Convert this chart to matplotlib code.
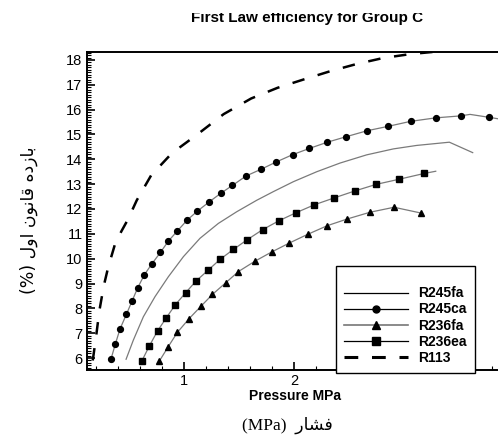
import matplotlib
matplotlib.use("Agg")
import matplotlib.pyplot as plt
from matplotlib.lines import Line2D
from matplotlib.patches import Rectangle
from matplotlib.ticker import MultipleLocator, FuncFormatter

# ---------------- data ----------------
r113_x = [0.17, 0.20, 0.23, 0.27, 0.31, 0.37, 0.43, 0.49, 0.57, 0.70, 0.89, 1.12,
          1.36, 1.61, 1.85, 2.09, 2.33, 2.57, 2.81, 3.06, 3.30, 3.55]
r113_y = [5.90, 6.85, 7.90, 8.90, 9.65, 10.55, 11.10, 11.58, 12.35, 13.35, 14.25, 15.00,
          15.82, 16.45, 16.88, 17.22, 17.55, 17.84, 18.08, 18.24, 18.34, 18.44]

r245ca_x = [0.336, 0.376, 0.418, 0.476, 0.527, 0.579, 0.639, 0.709, 0.785, 0.858, 0.940,
            1.03, 1.12, 1.227, 1.333, 1.44, 1.564, 1.70, 1.836, 1.988, 2.14, 2.303, 2.473,
            2.663, 2.857, 3.06, 3.288, 3.515, 3.60, 3.776, 3.90]
r245ca_y = [5.96, 6.57, 7.17, 7.76, 8.29, 8.83, 9.35, 9.80, 10.25, 10.71, 11.12,
            11.56, 11.91, 12.28, 12.63, 12.95, 13.33, 13.60, 13.89, 14.19, 14.44, 14.69, 14.91,
            15.15, 15.33, 15.53, 15.67, 15.75, 15.81, 15.69, 15.60]

r245fa_x = [0.473, 0.539, 0.63, 0.736, 0.857, 0.994, 1.145, 1.312, 1.479, 1.66, 1.812,
            1.994, 2.206, 2.418, 2.66, 2.903, 3.115, 3.412, 3.624]
r245fa_y = [5.95, 6.72, 7.66, 8.47, 9.27, 10.08, 10.82, 11.42, 11.89, 12.35, 12.70,
            13.10, 13.50, 13.85, 14.18, 14.42, 14.56, 14.69, 14.27]

r236ea_x = [0.615, 0.684, 0.759, 0.836, 0.918, 1.015, 1.109, 1.22, 1.327, 1.448, 1.57,
            1.715, 1.864, 2.018, 2.185, 2.367, 2.555, 2.745, 2.957, 3.182, 3.288]
r236ea_y = [5.87, 6.48, 7.09, 7.60, 8.13, 8.63, 9.10, 9.54, 9.97, 10.37, 10.75,
            11.17, 11.53, 11.85, 12.17, 12.45, 12.73, 12.99, 13.20, 13.43, 13.52]

r236fa_x = [0.776, 0.857, 0.939, 1.045, 1.155, 1.258, 1.379, 1.494, 1.645, 1.797, 1.957,
            2.124, 2.303, 2.485, 2.691, 2.909, 3.151]
r236fa_y = [5.88, 6.46, 7.03, 7.58, 8.09, 8.56, 9.03, 9.48, 9.90, 10.27, 10.63,
            10.98, 11.33, 11.60, 11.87, 12.07, 11.84]

series_labels = ["R245fa", "R245ca", "R236fa", "R236ea", "R113"]
title_text = "First Law efficiency for Group C"
xlabel_en = "Pressure MPa"
# Persian labels, pre-shaped (presentation forms, visual order)
xlabel_fa = "(MPa)  \uFEAD\uFE8E\uFEB8\uFED3"
ylabel_fa = "(%) \uFEDD\uFEED\uFE8D \uFEE5\uFEEE\uFEE7\uFE8E\uFED7 \uFEE9\uFEA9\uFEAF\uFE8E\uFE91"

# ---------------- figure ----------------
W, H = 498, 441
fig = plt.figure(figsize=(W / 100, H / 100), dpi=100)
plt.rcParams['font.family'] = ['Liberation Sans', 'DejaVu Sans']

left_px, right_px, top_px, bottom_px = 86.7, 510, 51.7, 370
ax = fig.add_axes([left_px / W, 1 - bottom_px / H,
                   (right_px - left_px) / W, (bottom_px - top_px) / H])
ax.set_xlim(0.115, 0.115 + (right_px - left_px) / 110.0)
ax.set_ylim(5.517, 18.334)

line_c = '#7a7a7a'
ax.plot(r245fa_x, r245fa_y, color=line_c, lw=0.9)
ax.plot(r245ca_x, r245ca_y, color=line_c, lw=0.9, marker='o', ms=4.2,
        mfc='black', mec='black', markevery=list(range(28)) + [29])
ax.plot(r236fa_x, r236fa_y, color=line_c, lw=0.9, marker='^', ms=4.6,
        mfc='black', mec='black')
ax.plot(r236ea_x, r236ea_y, color=line_c, lw=0.9, marker='s', ms=4.2,
        mfc='black', mec='black', markevery=list(range(20)))
ax.plot(r113_x, r113_y, color='black', lw=1.8, ls=(0, (5, 5.5)))

for s in ax.spines.values():
    s.set_linewidth(1.4)
ax.xaxis.set_major_locator(MultipleLocator(1))
ax.xaxis.set_minor_locator(MultipleLocator(0.2))
ax.yaxis.set_major_locator(MultipleLocator(1))
ax.yaxis.set_minor_locator(MultipleLocator(0.1))
ax.xaxis.set_major_formatter(FuncFormatter(lambda v, p: '' if round(v) == 3 else f'{v:.0f}'))
ax.tick_params(which='major', direction='in', length=6, width=1.2, labelsize=10.5, pad=3)
ax.tick_params(which='minor', direction='in', length=3, width=0.8)
ax.tick_params(top=False, right=False)

# texts
fig.text(307 / W, 1 - 22 / H, title_text, ha='center', va='baseline',
         fontsize=11, fontweight='bold')
fig.add_artist(Rectangle((0, 1 - 13 / H), 1, 13 / H, transform=fig.transFigure,
                         facecolor='white', edgecolor='none', zorder=20))
fig.text(295 / W, 1 - 396 / H, xlabel_en, ha='center', va='center',
         fontsize=10, fontweight='bold')
fig.text(287 / W, 1 - 425 / H, xlabel_fa, ha='center', va='center', fontsize=12.5,
         family=['Liberation Serif', 'DejaVu Sans'])
fig.text(29 / W, 1 - 220 / H, ylabel_fa, ha='center', va='center', rotation=90,
         fontsize=12.5, family=['DejaVu Sans'])

# legend
handles = [
    Line2D([], [], color='black', lw=0.9),
    Line2D([], [], color='black', lw=0.9, marker='o', ms=5, mfc='black'),
    Line2D([], [], color='#777777', lw=1.2, marker='^', ms=5.5, mfc='black', mec='black'),
    Line2D([], [], color='black', lw=0.9, marker='s', ms=5.5, mfc='black'),
    Line2D([], [], color='black', lw=2.2, ls=(0, (4.5, 4.5))),
]
leg = fig.legend(handles, series_labels, loc='upper left',
                 bbox_to_anchor=(336 / W, 1 - 266 / H), frameon=True, fancybox=False,
                 prop={'weight': 'bold', 'size': 10}, handlelength=4.6,
                 handletextpad=0.7, labelspacing=0.15, borderpad=0.6,
                 borderaxespad=0, title=' ', title_fontsize=7)
leg.get_frame().set_edgecolor('black')
leg.get_frame().set_linewidth(1.0)
leg.get_frame().set_alpha(1)

fig.savefig('out.png', dpi=100)
